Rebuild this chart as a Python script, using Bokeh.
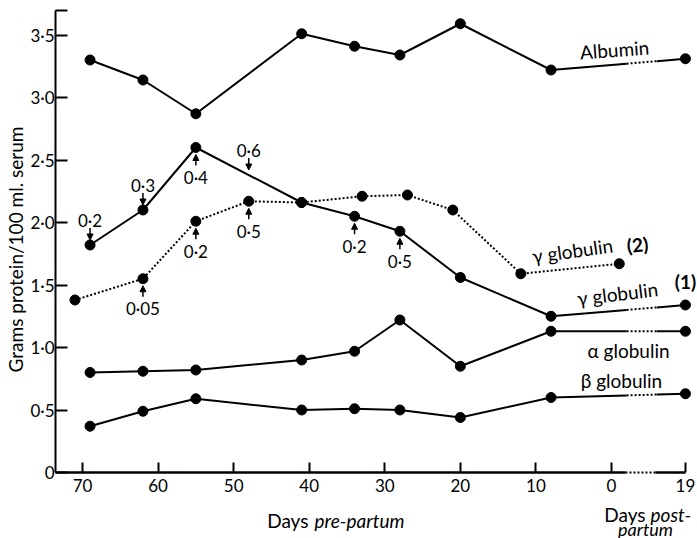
import numpy as np
from bokeh.plotting import figure
from bokeh.models import Range1d, FixedTicker, Label, Arrow, NormalHead, ColumnDataSource
from bokeh.embed import file_html
from bokeh.resources import INLINE

# ---------------- data (days relative to parturition: negative = pre-partum) -------------
days_main = [-69, -62, -55, -41, -34, -28, -20, -8, 19]
albumin = [3.30, 3.14, 2.87, 3.51, 3.41, 3.34, 3.59, 3.22, 3.31]
gamma1 = [1.82, 2.10, 2.60, 2.16, 2.05, 1.93, 1.56, 1.25, 1.34]
alpha = [0.80, 0.81, 0.82, 0.90, 0.97, 1.22, 0.85, 1.13, 1.13]
beta = [0.37, 0.49, 0.59, 0.50, 0.51, 0.50, 0.44, 0.60, 0.63]

days_gamma2 = [-71, -62, -55, -48, -41, -33, -27, -21, -12, 2]
gamma2 = [1.38, 1.55, 2.01, 2.17, 2.16, 2.21, 2.22, 2.10, 1.59, 1.67]

ann_series = ["gamma1", "gamma1", "gamma1", "gamma1", "gamma1", "gamma1", "gamma2", "gamma2", "gamma2"]
ann_days = [-69, -62, -55, -48, -34, -28, -62, -55, -48]
ann_text = ["0·2", "0·3", "0·4", "0·6", "0·2", "0·5", "0·05", "0·2", "0·5"]
ann_dir = ["down", "down", "up", "down", "up", "up", "up", "up", "up"]

x_tick_days = [-70, -60, -50, -40, -30, -20, -10, 0, 19]
x_tick_labels = ["70", "60", "50", "40", "30", "20", "10", "0", "19"]
y_ticks = [0, 0.5, 1.0, 1.5, 2.0, 2.5, 3.0, 3.5]
y_tick_labels = ["0", "0·5", "1·0", "1·5", "2·0", "2·5", "3·0", "3·5"]
y_title = "Grams protein/100 ml. serum"

# ---------------- layout / style ----------------
POST_SCALE = 0.515          # post-partum days are compressed on the axis
BREAK = (2.0, 6.0)          # dotted break after parturition (axis units)
AXIS_BREAK = (1.85, 5.8)
Y_TOP = 3.70
X_LEFT = -73.57
PXY = 1 / 125.0             # data units per pixel (y)
FONT = "Lato"
FS = "17px"

def tx(d):
    d = np.asarray(d, dtype=float)
    return np.where(d <= 0, d, d * POST_SCALE)

p = figure(width=697, height=538, output_backend="svg", toolbar_location=None,
           x_range=Range1d(-80.85, 11.38), y_range=Range1d(-0.528, 3.776),
           min_border=0, min_border_left=0, min_border_right=0,
           min_border_top=0, min_border_bottom=0)
p.background_fill_color = "white"
p.border_fill_color = "white"
p.outline_line_color = None
p.grid.visible = False

# axes (fixed inside the frame)
xt = [float(v) for v in tx(x_tick_days)]
xax = p.xaxis[0]
xax.fixed_location = 0
xax.ticker = FixedTicker(ticks=xt)
xax.major_label_overrides = {k: s for k, s in zip(xt, x_tick_labels)}
xax.axis_line_color = None
xax.major_tick_in = 10
xax.major_tick_out = 0
xax.major_tick_line_width = 2
xax.minor_tick_line_color = None
xax.major_label_standoff = 6

yt = y_ticks + [Y_TOP]
yax = p.yaxis[0]
yax.fixed_location = X_LEFT
yax.bounds = (0, Y_TOP)
yax.ticker = FixedTicker(ticks=yt)
ov = {k: s for k, s in zip(y_ticks, y_tick_labels)}
ov[Y_TOP] = ""
yax.major_label_overrides = ov
yax.axis_line_width = 2
yax.axis_line_color = "black"
yax.major_tick_in = 12
yax.major_tick_out = 0
yax.major_tick_line_width = 2
yax.minor_tick_line_color = None
yax.major_label_standoff = 1
for ax in (xax, yax):
    ax.major_label_text_font = FONT
    ax.major_label_text_font_size = FS
    ax.major_label_text_color = "black"
    ax.major_tick_line_color = "black"

# x axis line with break
p.line([X_LEFT, AXIS_BREAK[0]], [0, 0], line_color="black", line_width=2.5)
p.line([AXIS_BREAK[0], AXIS_BREAK[1]], [0, 0], line_color="black", line_width=2, line_dash="2 2")
p.line([AXIS_BREAK[1], xt[-1]], [0, 0], line_color="black", line_width=2.5)

# series with post-partum break
def broken_series(days, vals):
    t = tx(days)
    v = np.asarray(vals, dtype=float)
    b0 = np.interp(BREAK[0], t[-2:], v[-2:])
    b1 = np.interp(BREAK[1], t[-2:], v[-2:])
    p.line(list(t[:-1]) + [BREAK[0]], list(v[:-1]) + [b0], line_color="black", line_width=2)
    p.line([BREAK[0], BREAK[1]], [b0, b1], line_color="black", line_width=2, line_dash="2 2")
    p.line([BREAK[1], t[-1]], [b1, v[-1]], line_color="black", line_width=2)
    p.scatter(t, v, size=10, color="black")

for vals in (albumin, gamma1, alpha, beta):
    broken_series(days_main, vals)

p.line(tx(days_gamma2), gamma2, line_color="black", line_width=2, line_dash="2 2")
p.scatter(tx(days_gamma2), gamma2, size=10, color="black")

# arrows with values
series_map = {"gamma1": (days_main, gamma1), "gamma2": (days_gamma2, gamma2)}
xs0, ys0, xs1, ys1 = [], [], [], []
for s, d, txt, dr in zip(ann_series, ann_days, ann_text, ann_dir):
    dd, vv = series_map[s]
    t = float(tx([d])[0])
    v = float(np.interp(t, tx(dd), vv))
    if dr == "down":
        xs0.append(t); ys0.append(v + 17 * PXY); xs1.append(t); ys1.append(v + 5 * PXY)
        ly = v + 25 * PXY
    else:
        xs0.append(t); ys0.append(v - 18 * PXY); xs1.append(t); ys1.append(v - 7 * PXY)
        ly = v - 30 * PXY
    p.add_layout(Label(x=t, y=ly, text=txt, text_align="center", text_baseline="middle",
                       text_font=FONT, text_font_size=FS, text_color="black"))
arr_src = ColumnDataSource(dict(x0=xs0, y0=ys0, x1=xs1, y1=ys1))
p.add_layout(Arrow(source=arr_src, x_start="x0", y_start="y0", x_end="x1", y_end="y1",
                   line_width=1.5, line_color="black",
                   end=NormalHead(size=6, fill_color="black", line_color="black")))

def lab(x, y, text, angle=0.0, style="normal", align="center", size=FS):
    p.add_layout(Label(x=x, y=y, text=text, angle=angle, text_align=align,
                       text_baseline="middle", text_font=FONT, text_font_size=size,
                       text_font_style=style, text_color="black"))

# series labels
LS = "19px"
lab(0.4, 3.384, "Albumin", angle=0.07, size=LS)
lab(-5.16, 1.776, "γ globulin", angle=0.14, size=LS)
lab(3.44, 1.824, "(2)", angle=0.1, style="bold", size=LS)
lab(0.79, 1.432, "γ globulin", angle=0.12, size=LS)
lab(9.79, 1.528, "(1)", style="bold", size=LS)
lab(2.25, 0.976, "α globulin", size=LS)
lab(1.32, 0.736, "β globulin", size=LS)

# axis titles
TS = "19px"
lab(-78.9, 1.784, y_title, angle=np.pi / 2, size=TS)
lab(-40.1, -0.384, "Days", align="right", size=TS)
lab(-39.3, -0.384, "pre-partum", align="left", style="italic", size=TS)
lab(4.5, -0.336, "Days", align="right", size=TS)
lab(5.16, -0.336, "post-", align="left", style="italic", size=TS)
lab(4.5, -0.448, "partum", style="italic", size="18px")

open("out.html", "w").write(file_html(p, INLINE))
